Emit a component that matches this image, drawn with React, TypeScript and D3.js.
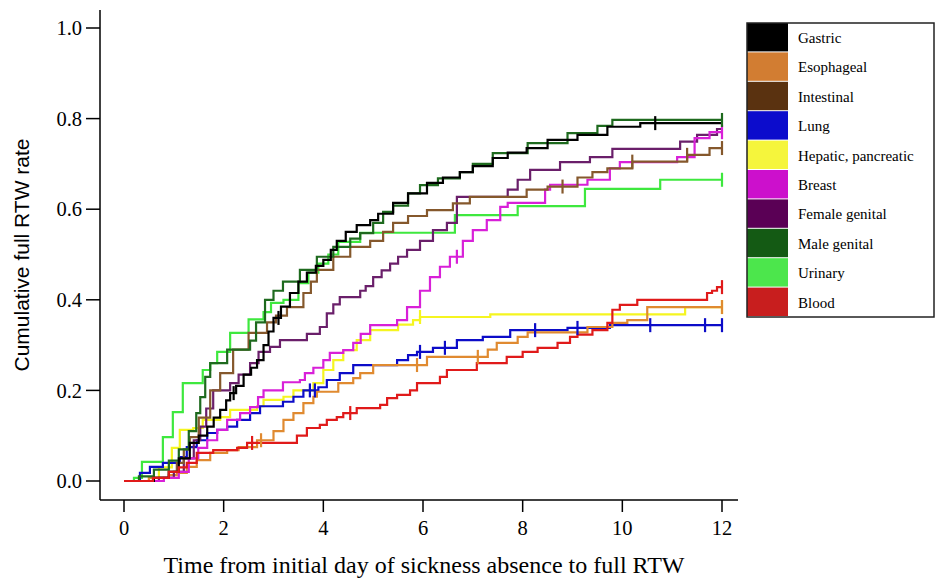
import React from "react";
import * as d3 from "d3";

type Pt = [number, number];

// legend order
const groups = [
  "Gastric",
  "Esophageal",
  "Intestinal",
  "Lung",
  "Hepatic, pancreatic",
  "Breast",
  "Female genital",
  "Male genital",
  "Urinary",
  "Blood",
];

const swatchColors = ["#000000", "#d27d32", "#5a3210", "#0c0ccc", "#f5f53c", "#cc10cc", "#5a0055", "#145a14", "#4ce64c", "#c81e1e"];
const lineColors = ["#000000", "#e08a30", "#85582c", "#0c0cc8", "#f5f520", "#d820d8", "#6a1f6a", "#1e6a1e", "#3ee83e", "#e01a1a"];

// step points [months, cumulative rate]
const gastric: Pt[] = [
  [0, 0], [0.6, 0.007], [0.9, 0.02], [1.1, 0.05], [1.32, 0.084], [1.5, 0.1], [1.67, 0.12], [1.8, 0.14],
  [1.93, 0.157], [2.05, 0.178], [2.13, 0.194], [2.25, 0.21], [2.4, 0.235], [2.55, 0.25], [2.67, 0.267],
  [2.8, 0.3], [2.9, 0.33], [3.0, 0.36], [3.15, 0.385], [3.33, 0.415], [3.5, 0.44], [3.67, 0.46],
  [3.85, 0.475], [4.0, 0.488], [4.15, 0.51], [4.27, 0.53], [4.45, 0.55], [4.67, 0.565], [4.94, 0.576],
  [5.1, 0.59], [5.4, 0.614], [5.7, 0.635], [6.08, 0.658], [6.4, 0.67], [6.74, 0.682], [7.0, 0.695],
  [7.4, 0.713], [7.7, 0.725], [8.08, 0.735], [8.5, 0.753], [9.1, 0.764], [9.7, 0.782], [10.36, 0.79],
];
const esophageal: Pt[] = [
  [0, 0], [0.5, 0.007], [0.9, 0.013], [1.06, 0.018], [1.26, 0.031], [1.46, 0.046], [1.73, 0.062],
  [2.07, 0.068], [2.3, 0.075], [2.67, 0.09], [3.0, 0.11], [3.2, 0.135], [3.4, 0.15], [3.6, 0.172],
  [3.8, 0.186], [3.87, 0.197], [4.3, 0.216], [4.6, 0.227], [4.74, 0.238], [5.0, 0.256], [6.08, 0.274],
  [7.3, 0.29], [7.48, 0.305], [7.9, 0.318], [8.1, 0.328], [9.3, 0.34], [9.8, 0.349], [10.1, 0.355],
  [10.5, 0.384],
];
const intestinal: Pt[] = [
  [0, 0], [0.6, 0.007], [0.9, 0.02], [1.06, 0.04], [1.2, 0.07], [1.32, 0.097], [1.5, 0.14], [1.73, 0.2],
  [1.93, 0.238], [2.19, 0.29], [2.5, 0.327], [2.87, 0.35], [3.05, 0.365], [3.27, 0.384], [3.6, 0.415],
  [3.75, 0.44], [3.87, 0.466], [4.2, 0.495], [4.54, 0.517], [4.94, 0.53], [5.2, 0.55], [5.4, 0.57],
  [5.7, 0.585], [6.08, 0.598], [6.6, 0.613], [6.94, 0.627], [8.08, 0.643], [8.5, 0.65], [9.1, 0.67],
  [9.4, 0.682], [9.7, 0.69], [10.2, 0.705], [11.3, 0.72], [11.75, 0.735],
];
const lung: Pt[] = [
  [0, 0], [0.32, 0.018], [0.52, 0.031], [0.78, 0.04], [1.12, 0.053], [1.26, 0.075], [1.46, 0.09],
  [1.67, 0.106], [1.87, 0.113], [2.07, 0.12], [2.27, 0.135], [2.53, 0.15], [2.73, 0.165], [3.19, 0.175],
  [3.4, 0.186], [3.6, 0.2], [3.9, 0.207], [4.07, 0.223], [4.33, 0.238], [4.6, 0.256], [5.48, 0.267],
  [5.7, 0.278], [5.88, 0.285], [6.2, 0.294], [6.68, 0.311], [7.2, 0.318], [7.75, 0.333], [8.9, 0.338],
  [9.75, 0.344],
];
const hepatic: Pt[] = [
  [0, 0], [0.5, 0.007], [0.7, 0.03], [0.96, 0.073], [1.12, 0.113], [1.39, 0.117], [1.58, 0.135],
  [1.93, 0.141], [2.13, 0.157], [2.67, 0.165], [2.8, 0.179], [3.2, 0.186], [3.4, 0.2], [3.8, 0.216],
  [4.0, 0.245], [4.2, 0.267], [4.4, 0.289], [4.67, 0.311], [4.94, 0.333], [5.5, 0.345], [5.8, 0.355],
  [5.94, 0.362], [7.35, 0.368], [11.26, 0.384],
];
const breast: Pt[] = [
  [0, 0], [0.8, 0.007], [1.1, 0.02], [1.3, 0.05], [1.49, 0.073], [1.67, 0.09], [1.87, 0.113],
  [2.07, 0.135], [2.33, 0.15], [2.53, 0.163], [2.69, 0.185], [2.8, 0.2], [3.19, 0.218], [3.53, 0.223],
  [3.63, 0.238], [3.8, 0.25], [4.0, 0.267], [4.13, 0.283], [4.4, 0.289], [4.6, 0.305], [4.75, 0.325],
  [4.94, 0.344], [5.48, 0.355], [5.68, 0.384], [5.94, 0.42], [6.14, 0.45], [6.34, 0.473], [6.54, 0.495],
  [6.8, 0.53], [7.0, 0.554], [7.28, 0.576], [7.55, 0.605], [7.7, 0.614], [8.45, 0.643], [8.55, 0.654],
  [9.3, 0.665], [9.75, 0.69], [9.95, 0.704], [11.1, 0.715], [11.45, 0.757], [11.75, 0.77],
];
const femaleGenital: Pt[] = [
  [0, 0], [0.7, 0.007], [1.0, 0.02], [1.2, 0.05], [1.4, 0.09], [1.53, 0.12], [1.65, 0.16], [1.79, 0.2],
  [2.13, 0.216], [2.3, 0.235], [2.53, 0.26], [2.7, 0.285], [2.93, 0.296], [3.13, 0.311], [3.67, 0.325],
  [3.93, 0.34], [4.07, 0.37], [4.2, 0.39], [4.33, 0.406], [4.74, 0.42], [4.85, 0.43], [5.0, 0.45],
  [5.17, 0.465], [5.34, 0.48], [5.5, 0.495], [5.68, 0.51], [5.94, 0.53], [6.2, 0.554], [6.48, 0.57],
  [6.68, 0.627], [7.7, 0.643], [7.9, 0.665], [8.15, 0.687], [8.75, 0.704], [9.35, 0.715], [9.8, 0.733],
  [11.16, 0.749], [11.5, 0.764], [11.9, 0.777],
];
const maleGenital: Pt[] = [
  [0, 0], [0.3, 0.01], [0.6, 0.025], [0.9, 0.045], [1.1, 0.07], [1.3, 0.11], [1.45, 0.15], [1.53, 0.185],
  [1.63, 0.23], [1.73, 0.26], [2.07, 0.29], [2.53, 0.31], [2.65, 0.35], [2.83, 0.4], [3.0, 0.42],
  [3.19, 0.44], [3.53, 0.466], [3.87, 0.495], [4.2, 0.517], [4.54, 0.535], [4.74, 0.547], [5.0, 0.57],
  [5.2, 0.594], [5.4, 0.608], [5.7, 0.635], [5.94, 0.653], [6.3, 0.668], [6.74, 0.682], [7.0, 0.7],
  [7.4, 0.724], [8.1, 0.746], [8.9, 0.768], [9.5, 0.784], [9.8, 0.797],
];
const urinary: Pt[] = [
  [0, 0], [0.2, 0.007], [0.36, 0.042], [0.78, 0.097], [0.98, 0.152], [1.18, 0.216], [1.58, 0.245],
  [1.73, 0.26], [1.87, 0.285], [2.13, 0.327], [2.5, 0.357], [2.8, 0.373], [2.95, 0.393], [3.2, 0.4],
  [3.5, 0.437], [3.7, 0.46], [3.9, 0.48], [4.1, 0.5], [4.3, 0.528], [4.74, 0.548], [6.64, 0.587],
  [7.9, 0.607], [9.25, 0.645], [10.76, 0.665],
];
const blood: Pt[] = [
  [0, 0], [0.58, 0.007], [0.9, 0.02], [1.1, 0.03], [1.26, 0.04], [1.46, 0.062], [1.79, 0.068],
  [2.27, 0.073], [2.47, 0.084], [3.47, 0.1], [3.67, 0.117], [3.93, 0.124], [4.07, 0.135], [4.27, 0.141],
  [4.4, 0.15], [4.67, 0.161], [5.14, 0.168], [5.28, 0.183], [5.48, 0.19], [5.74, 0.2], [5.88, 0.216],
  [6.34, 0.23], [6.48, 0.245], [7.08, 0.26], [7.68, 0.274], [8.0, 0.285], [8.3, 0.294], [8.7, 0.305],
  [8.95, 0.318], [9.1, 0.323], [9.4, 0.333], [9.7, 0.349], [9.8, 0.378], [9.95, 0.389], [10.3, 0.4],
  [11.7, 0.415], [11.8, 0.42], [11.9, 0.428],
];

// censoring times (months)
const gastricCens = [2.2, 3.1, 10.66];
const esophagealCens = [2.75, 5.88, 7.1, 12];
const intestinalCens = [8.8, 10.2, 11.3, 12];
const lungCens = [3.73, 3.83, 5.94, 6.44, 8.25, 9.1, 10.56, 11.66, 12];
const hepaticCens = [5.94, 12];
const breastCens = [6.68, 12];
const femaleGenitalCens: number[] = [];
const maleGenitalCens = [12];
const urinaryCens = [12];
const bloodCens = [2.57, 4.54, 12];

const curves = [gastric, esophageal, intestinal, lung, hepatic, breast, femaleGenital, maleGenital, urinary, blood];
const censored = [gastricCens, esophagealCens, intestinalCens, lungCens, hepaticCens, breastCens, femaleGenitalCens, maleGenitalCens, urinaryCens, bloodCens];
const drawOrder = [8, 4, 3, 1, 6, 5, 2, 7, 0, 9];

const followUp = 12;
const xTicks = [0, 2, 4, 6, 8, 10, 12];
const yTicks = [0, 0.2, 0.4, 0.6, 0.8, 1.0];

const valueAt = (pts: Pt[], t: number) => {
  let v = 0;
  for (const [tt, vv] of pts) if (tt <= t + 1e-9) v = vv;
  return v;
};

export default function App() {
  const width = 938;
  const height = 580;

  const x = d3.scaleLinear().domain([0, 12]).range([124, 722]);
  const y = d3.scaleLinear().domain([0, 1]).range([481, 28]);

  const line = d3
    .line<Pt>()
    .x((d) => x(d[0]))
    .y((d) => y(d[1]))
    .curve(d3.curveStepAfter);

  const axisLeftX = 100;
  const axisBottomY = 500;
  const serif = "'Liberation Serif', 'Times New Roman', serif";

  const legend = { x: 747, y: 23, w: 187, rowH: 29.4, sw: 41 };

  return (
    <svg
      width={width}
      height={height}
      style={{ position: "absolute", left: 0, top: 0, background: "#fff" }}
    >
      {/* curves */}
      <g fill="none" strokeWidth={2.2}>
        {drawOrder.map((i) => {
          const pts = curves[i];
          const last = pts[pts.length - 1];
          const full: Pt[] = [...pts, [followUp, last[1]]];
          return <path key={groups[i]} d={line(full) ?? ""} stroke={lineColors[i]} />;
        })}
      </g>
      {/* censor ticks */}
      <g strokeWidth={2.2}>
        {drawOrder.map((i) =>
          censored[i].map((t, j) => {
            const cx = x(t);
            const cy = y(valueAt(curves[i], t));
            return (
              <line
                key={`${i}-${j}`}
                stroke={lineColors[i]}
                x1={cx}
                x2={cx}
                y1={cy - 7}
                y2={cy + 7}
              />
            );
          })
        )}
      </g>

      {/* y axis */}
      <g stroke="#000" strokeWidth={1.5}>
        <line x1={axisLeftX} x2={axisLeftX} y1={10} y2={axisBottomY} />
        {yTicks.map((t) => (
          <line key={t} x1={axisLeftX - 14} x2={axisLeftX} y1={y(t)} y2={y(t)} />
        ))}
      </g>
      {yTicks.map((t) => (
        <text
          key={t}
          x={axisLeftX - 18}
          y={y(t)}
          dy="0.35em"
          textAnchor="end"
          fontFamily={serif}
          fontSize={20.5}
          fill="#000"
        >
          {d3.format(".1f")(t)}
        </text>
      ))}
      <text
        transform={`translate(22, 255) rotate(-90)`}
        textAnchor="middle"
        dy="0.35em"
        fontFamily="'Liberation Sans Narrow', 'Arial Narrow', sans-serif"
        fontSize={21}
        fill="#000"
      >
        Cumulative full RTW rate
      </text>

      {/* x axis */}
      <g stroke="#000" strokeWidth={1.5}>
        <line x1={axisLeftX} x2={738} y1={axisBottomY} y2={axisBottomY} />
        {xTicks.map((t) => (
          <line key={t} x1={x(t)} x2={x(t)} y1={axisBottomY} y2={axisBottomY + 12} />
        ))}
      </g>
      {xTicks.map((t) => (
        <text
          key={t}
          x={x(t)}
          y={535}
          textAnchor="middle"
          fontFamily={serif}
          fontSize={20.5}
          fill="#000"
        >
          {t}
        </text>
      ))}
      <text
        x={424}
        y={573}
        textAnchor="middle"
        fontFamily={serif}
        fontSize={24}
        fill="#000"
      >
        Time from initial day of sickness absence to full RTW
      </text>

      {/* legend */}
      <g>
        {groups.map((g, i) => (
          <g key={g}>
            <rect
              x={legend.x}
              y={legend.y + i * legend.rowH}
              width={legend.sw}
              height={legend.rowH - 1}
              fill={swatchColors[i]}
            />
            <text
              x={legend.x + legend.sw + 10}
              y={legend.y + i * legend.rowH + legend.rowH / 2}
              dy="0.35em"
              fontFamily={serif}
              fontSize={15}
              fill="#000"
            >
              {g}
            </text>
          </g>
        ))}
        <rect
          x={legend.x}
          y={legend.y}
          width={legend.w}
          height={legend.rowH * groups.length}
          fill="none"
          stroke="#222"
          strokeWidth={1.5}
        />
      </g>
    </svg>
  );
}
